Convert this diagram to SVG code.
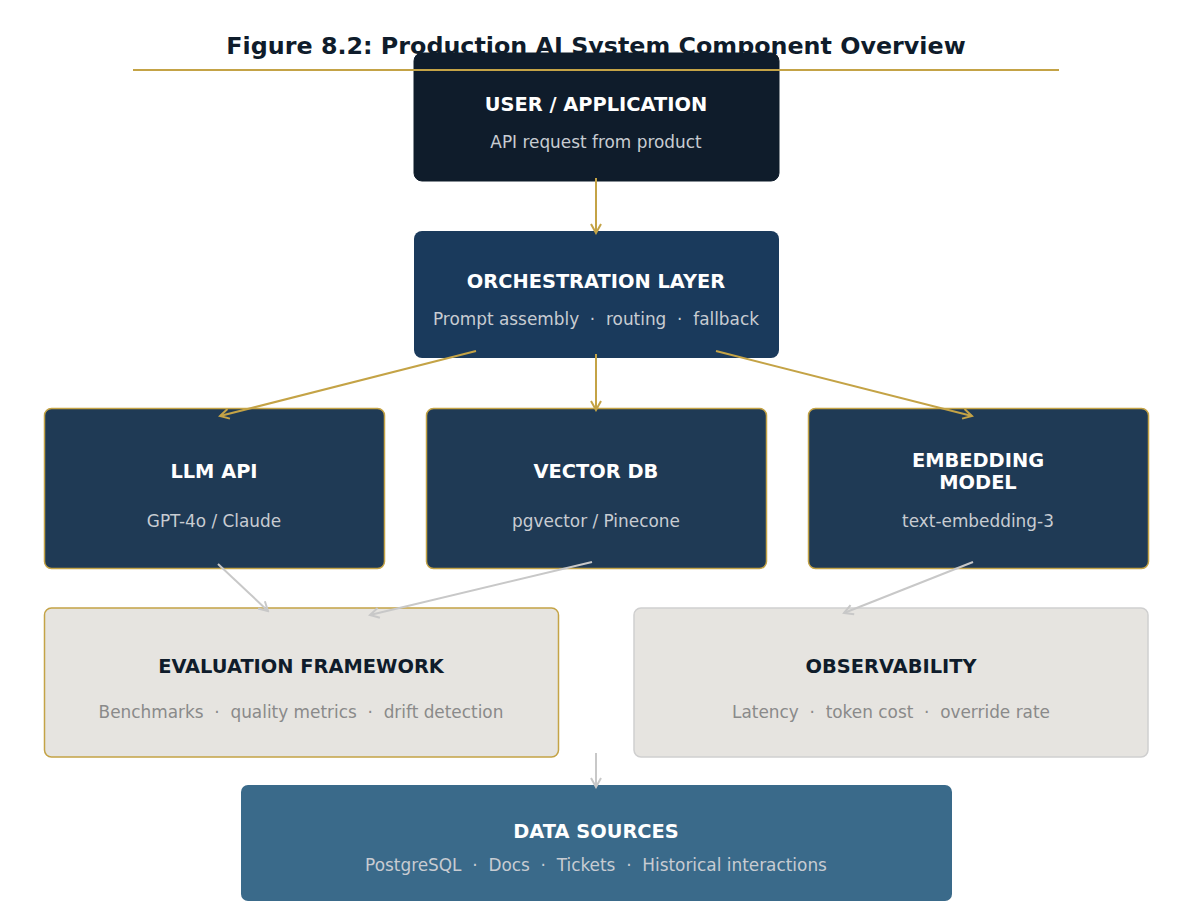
<svg xmlns="http://www.w3.org/2000/svg" width="1192" height="922" viewBox="0 0 1192 922">
<defs>
<marker id="ag" viewBox="0 0 12 12" refX="10" refY="6" markerWidth="12" markerHeight="12" markerUnits="userSpaceOnUse" orient="auto">
<path d="M1,1 L10,6 L1,11" fill="none" stroke="#c4a346" stroke-width="2"/>
</marker>
<marker id="ay" viewBox="0 0 12 12" refX="10" refY="6" markerWidth="12" markerHeight="12" markerUnits="userSpaceOnUse" orient="auto">
<path d="M1,1 L10,6 L1,11" fill="none" stroke="#c8c8c8" stroke-width="2"/>
</marker>
<style>
text{font-family:"DejaVu Sans","Liberation Sans",sans-serif;text-anchor:middle;white-space:pre}
.t{font-size:19.4px;font-weight:bold;fill:#ffffff}
.td{font-size:19.4px;font-weight:bold;fill:#0f1c2b}
.s{font-size:16.9px;fill:#c8ccd2}
.sg{font-size:16.9px;fill:#8a8a8a}
.g{stroke:#c4a346;stroke-width:2;fill:none;marker-end:url(#ag)}
.y{stroke:#c8c8c8;stroke-width:2;fill:none;marker-end:url(#ay)}
</style>
</defs>
<rect width="1192" height="922" fill="#ffffff"/>
<text x="596" y="54" style="font-size:23.8px;font-weight:bold;fill:#0f1c2b">Figure 8.2: Production AI System Component Overview</text>

<g id="user">
<rect x="414" y="53" width="365" height="128" rx="8" fill="#0f1c2b" stroke="#0f1c2b"/>
<text class="t" x="596" y="111">USER / APPLICATION</text>
<text class="s" x="596" y="148">API request from product</text>
</g>
<line x1="133" y1="70" x2="1059" y2="70" stroke="#c4a346" stroke-width="2"/>

<g id="orchestration">
<rect x="414" y="231" width="365" height="127" rx="8" fill="#1a3a5c"/>
<text class="t" x="596" y="288">ORCHESTRATION LAYER</text>
<text class="s" x="596" y="325">Prompt assembly  ·  routing  ·  fallback</text>
</g>

<g id="llm">
<rect x="44.5" y="408.5" width="340" height="160" rx="7" fill="#1f3a55" stroke="#c4a346" stroke-width="1.5"/>
<text class="t" x="214" y="478">LLM API</text>
<text class="s" x="214" y="527">GPT-4o / Claude</text>
</g>
<g id="vectordb">
<rect x="426.5" y="408.5" width="340" height="160" rx="7" fill="#1f3a55" stroke="#c4a346" stroke-width="1.5"/>
<text class="t" x="596" y="478">VECTOR DB</text>
<text class="s" x="596" y="527">pgvector / Pinecone</text>
</g>
<g id="embedding">
<rect x="808.5" y="408.5" width="340" height="160" rx="7" fill="#1f3a55" stroke="#c4a346" stroke-width="1.5"/>
<text class="t" x="978" y="467">EMBEDDING</text>
<text class="t" x="978" y="489">MODEL</text>
<text class="s" x="978" y="527">text-embedding-3</text>
</g>

<g id="evaluation">
<rect x="44.5" y="608" width="514" height="149" rx="7" fill="#e6e4e0" stroke="#c4a346" stroke-width="1.5"/>
<text class="td" x="301" y="673">EVALUATION FRAMEWORK</text>
<text class="sg" x="301" y="718">Benchmarks  ·  quality metrics  ·  drift detection</text>
</g>
<g id="observability">
<rect x="634" y="608" width="514" height="149" rx="7" fill="#e6e4e0" stroke="#cfcfcf" stroke-width="1.5"/>
<text class="td" x="891" y="673">OBSERVABILITY</text>
<text class="sg" x="891" y="718">Latency  ·  token cost  ·  override rate</text>
</g>

<g id="datasources">
<rect x="241" y="785" width="711" height="116" rx="7" fill="#3a6a8a"/>
<text class="t" x="596" y="838">DATA SOURCES</text>
<text class="s" x="596" y="871">PostgreSQL  ·  Docs  ·  Tickets  ·  Historical interactions</text>
</g>

<g id="connectors">
<line class="g" x1="596" y1="178" x2="596" y2="233"/>
<line class="g" x1="596" y1="354" x2="596" y2="410"/>
<line class="g" x1="476" y1="351" x2="220" y2="416"/>
<line class="g" x1="716" y1="351" x2="972" y2="416"/>
<line class="y" x1="218" y1="564" x2="268" y2="611"/>
<line class="y" x1="592" y1="562" x2="370" y2="615"/>
<line class="y" x1="973" y1="562" x2="844" y2="613"/>
<line class="y" x1="596" y1="753" x2="596" y2="787"/>
</g>
</svg>
